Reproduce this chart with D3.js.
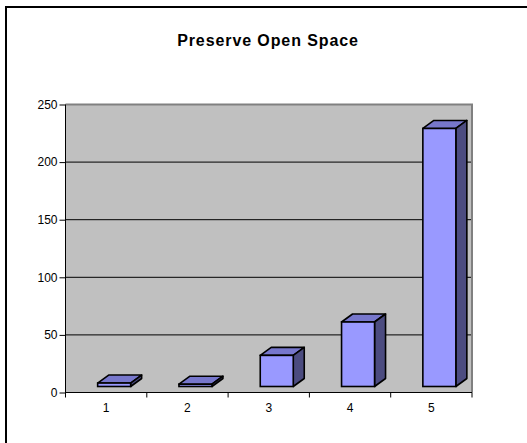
<!DOCTYPE html>
<html><head><meta charset="utf-8">
<script src="https://cdn.jsdelivr.net/npm/d3@7"></script>
<style>body{margin:0;background:#fff}svg{display:block}text{font-family:"Liberation Sans",Arial,sans-serif}</style>
</head><body>
<script>
const categories = ["1","2","3","4","5"];
const values = [3, 2, 27, 56, 224];
const yTicks = [0, 50, 100, 150, 200, 250];
const title = "Preserve Open Space";

(function () {
const W = 527, H = 443;
const svg = d3.select("body").append("svg").attr("width", W).attr("height", H);

// outer chart border
svg.append("rect").attr("x", 6).attr("y", 7).attr("width", 530).attr("height", 440)
  .attr("fill", "#fff").attr("stroke", "#000").attr("stroke-width", 2);

svg.append("text").attr("x", 268).attr("y", 46).attr("text-anchor", "middle")
  .attr("font-size", 16).attr("letter-spacing", 0.9).attr("font-weight", "bold").text(title);

const pLeft = 65.5, pRight = 472, pTop = 104.5, pBase = 392.5;
const y = d3.scaleLinear().domain([0, 250]).range([pBase, pTop]);
const x = d3.scaleBand().domain(categories).range([pLeft, pRight]).padding(0);

// back wall
svg.append("rect").attr("x", pLeft).attr("y", pTop).attr("width", pRight - pLeft).attr("height", pBase - pTop)
  .attr("fill", "#c0c0c0");
// gridlines
svg.append("g").selectAll("line").data(yTicks.filter(t => t > 0 && t < 250)).join("line")
  .attr("x1", pLeft).attr("x2", pRight).attr("y1", d => y(d)).attr("y2", d => y(d))
  .attr("stroke", "#000").attr("stroke-width", 1);
// wall border (top and right)
svg.append("path").attr("d", `M${pLeft},${pTop}H${pRight}V${pBase}`)
  .attr("fill", "none").attr("stroke", "#808080").attr("stroke-width", 2);

// y axis
const yAxis = d3.axisLeft(y).tickValues(yTicks).tickSize(6).tickPadding(2);
const gy = svg.append("g").attr("transform", `translate(${pLeft},0)`).call(yAxis);
gy.select(".domain").attr("stroke", "#000").attr("d", `M0,${pTop}V${pBase + 5}`);
gy.selectAll(".tick line").attr("stroke", "#000");
gy.selectAll("text").attr("font-size", 12).attr("fill", "#000").attr("font-family", "Liberation Sans, Arial, sans-serif");

// x axis
const gx = svg.append("g").attr("transform", `translate(0,${pBase})`);
gx.append("line").attr("x1", pLeft).attr("x2", pRight).attr("stroke", "#000").attr("stroke-width", 1);
gx.selectAll("line.tk").data(categories).join("line").attr("class", "tk")
  .attr("x1", d => x(d) + x.bandwidth()).attr("x2", d => x(d) + x.bandwidth())
  .attr("y1", 0).attr("y2", 5).attr("stroke", "#000");
gx.selectAll("text").data(categories).join("text")
  .attr("x", d => x(d) + x.bandwidth() / 2).attr("y", 19).attr("text-anchor", "middle")
  .attr("font-size", 12).text(d => d);

// 3D bars
const dx = 11, dy = -8, off = 6, bw = 33, shift = 8;
const bars = svg.append("g").selectAll("g").data(categories.map((c, i) => ({c, v: values[i]}))).join("g");
bars.each(function(d) {
  const g = d3.select(this);
  const x0 = x(d.c) + x.bandwidth() / 2 + shift - bw / 2, x1 = x0 + bw;
  const yt = y(d.v) - off, yb = y(0) - off;
  const sw = 1.6;
  g.append("path").attr("d", `M${x0},${yt}L${x0 + dx},${yt + dy}L${x1 + dx},${yt + dy}L${x1},${yt}Z`)
    .attr("fill", "#7777cc").attr("stroke", "#000").attr("stroke-width", sw).attr("stroke-linejoin", "round");
  g.append("path").attr("d", `M${x1},${yt}L${x1 + dx},${yt + dy}L${x1 + dx},${yb + dy}L${x1},${yb}Z`)
    .attr("fill", "#4c4c80").attr("stroke", "#000").attr("stroke-width", sw).attr("stroke-linejoin", "round");
  g.append("rect").attr("x", x0).attr("y", yt).attr("width", bw).attr("height", yb - yt)
    .attr("fill", "#9999ff").attr("stroke", "#000").attr("stroke-width", sw);
});
})();
</script>
</body></html>
